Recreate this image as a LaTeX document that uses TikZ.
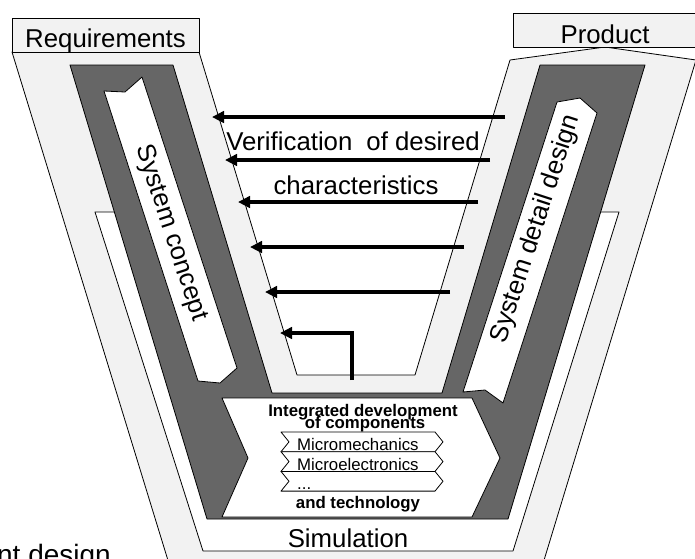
\documentclass[tikz,border=0pt]{standalone}
\usepackage{fontspec}
\setmainfont{Liberation Sans}
\usetikzlibrary{arrows.meta}
\definecolor{lightband}{HTML}{F2F2F2}
\definecolor{darkband}{HTML}{666666}

\begin{document}
\begin{tikzpicture}[x=1pt,y=-1pt,
  outline/.style={draw=black,line width=0.8pt,line join=round},
  lightpart/.style={outline,fill=lightband},
  darkpart/.style={outline,fill=darkband},
  whitepart/.style={outline,fill=white},
  flowarrow/.style={line width=4.5pt,line join=miter,-{Triangle[length=12pt,width=11.5pt]}},
  bigtext/.style={font=\fontsize{25.8}{25.8}\selectfont,inner sep=0pt},
  smalltext/.style={font=\fontsize{16.8}{16.8}\selectfont,inner sep=0pt},
  boldtext/.style={font=\fontsize{16.8}{16.8}\selectfont\bfseries,inner sep=0pt},
]
\useasboundingbox (0,0) rectangle (695,558);
\clip (0,0) rectangle (695,558);

% outer light V with the two phase boxes
\path[lightpart] (12,52) -- (199,52) -- (297,375) -- (415,375) -- (510,60)
  -- (605,47) -- (696,60) -- (538,580) -- (174,580) -- cycle;
\node (req) [lightpart,minimum width=187pt,minimum height=34pt,inner sep=0pt] at (105.5,35) {};
\node (prod) [lightpart,minimum width=184pt,minimum height=34pt,inner sep=0pt] at (605,30) {};
\node[bigtext,anchor=base] at (105.5,47) {Requirements};
\node[bigtext,anchor=base] at (605,43) {Product};

% simulation band
\path[whitepart] (95,212) -- (203,551) -- (513,551) -- (619,212) -- (550,212)
  -- (480,440) -- (260,440) -- (160,212) -- cycle;
\node (sim) [bigtext,anchor=base] at (348,547) {Simulation};

% dark V
\path[darkpart] (70,65) -- (173,65) -- (272,393) -- (442,393) -- (540,65)
  -- (645,65) -- (508,519) -- (207,519) -- cycle;

% left and right phase arrows
\path[whitepart] (104,91) -- (125,92) -- (142,77) -- (237,368) -- (220,383) -- (198,381) -- cycle;
\node (concept) [bigtext,rotate=-72] at (171,233) {System concept};
\path[whitepart] (463,392) -- (485,390) -- (503,403) -- (597,113) -- (580,98) -- (557,102) -- cycle;
\node (detail) [bigtext,rotate=72] at (536,229) {System detail design};

% component development chevron
\path[whitepart] (222,398) -- (472,398) -- (500,458) -- (472,517) -- (222,517) -- (248,458) -- cycle;
\foreach \yt in {432,451.7,471.4}{
  \path[whitepart] (281,\yt) -- (435,\yt) -- (443,\yt+9.85) -- (435,\yt+19.7)
    -- (281,\yt+19.7) -- (289,\yt+9.85) -- cycle;
}
\node (integ) [boldtext,anchor=base] at (363,416) {Integrated development};
\node (comp) [boldtext,anchor=base] at (365,428) {of components};
\node (mmech) [smalltext,anchor=base west] at (297,450.5) {Micromechanics};
\node (melec) [smalltext,anchor=base west] at (297,470) {Microelectronics};
\node (more) [smalltext,anchor=base west] at (297,489) {...};
\node (tech) [boldtext,anchor=base] at (358,508) {and technology};

% verification arrows
\node (verif) [bigtext,anchor=base] at (353,150) {Verification\hspace{14pt}of desired};
\node (charac) [bigtext,anchor=base] at (356,194) {characteristics};
\coordinate (a1s) at (505,117); \coordinate (a1e) at (212,117);
\coordinate (a2s) at (490,160); \coordinate (a2e) at (225,160);
\coordinate (a3s) at (478,202); \coordinate (a3e) at (238,202);
\coordinate (a4s) at (464,247); \coordinate (a4e) at (250,247);
\coordinate (a5s) at (450,292); \coordinate (a5e) at (265,292);
\coordinate (a6s) at (352,380); \coordinate (a6e) at (280,333);
\draw[flowarrow] (a1s) -- (a1e);
\draw[flowarrow] (a2s) -- (a2e);
\draw[flowarrow] (a3s) -- (a3e);
\draw[flowarrow] (a4s) -- (a4e);
\draw[flowarrow] (a5s) -- (a5e);
\draw[flowarrow] (a6s) |- (a6e);

% cut-off caption at the lower edge
\node (cdesign) [font=\fontsize{28}{28}\selectfont,inner sep=0pt,anchor=base east] at (111,564) {nt design};
\end{tikzpicture}
\end{document}
